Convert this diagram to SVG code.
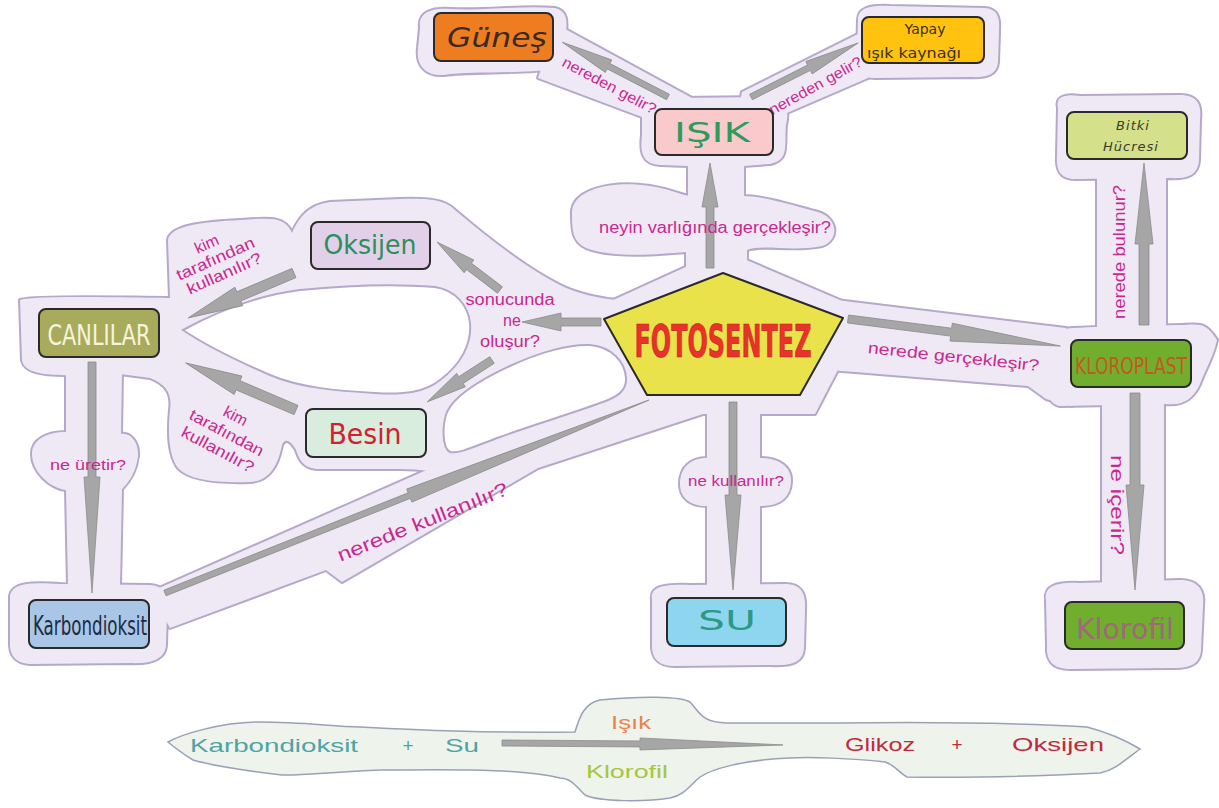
<svg xmlns="http://www.w3.org/2000/svg" xmlns:xlink="http://www.w3.org/1999/xlink" width="1219" height="808" viewBox="0 0 1219 808">
<style>
.box{stroke:#2a2a2a;stroke-width:2}
.arr{fill:#a6a6a6;stroke:#8c8c8c;stroke-width:0.8;stroke-linejoin:round}
.lbl{font-family:"Liberation Sans",Arial,sans-serif;fill:#c8288f;text-anchor:middle}
.hand{font-family:"DejaVu Sans","Open Sans",sans-serif;text-anchor:middle}
.cond{font-family:"Liberation Sans Narrow","DejaVu Sans Condensed","Liberation Sans",sans-serif;text-anchor:middle}
.eq{font-family:"Liberation Sans",Arial,sans-serif;font-size:19px}
.hole{fill:#ffffff;stroke:#b6a8ca;stroke-width:2}
</style>
<defs>
<g id="blob">
<path d="M420,28 C418,12 432,8 450,9 C490,11 520,5 555,8 C568,11 567,22 566,34 C566,50 568,63 556,69 C520,74 470,71 444,75 C424,76 416,64 418,48 Z"/>
<path d="M556,24 L692,98 L692,126 L650,120 L538,78 Z"/>
<path d="M858,20 C858,8 870,5 890,6 L985,8 C998,9 1000,18 999,32 L998,62 C997,74 988,78 970,77 L875,78 C860,78 856,70 857,55 Z"/>
<path d="M860,33 L868,78 L780,116 L738,110 L742,92 Z"/>
<path d="M642,112 C640,98 655,96 680,98 L770,97 C785,98 790,108 786,125 C784,145 790,160 770,164 L744,166 L744,200 L688,200 L688,166 L660,165 C642,164 640,152 642,135 Z"/>
<path d="M572,215 C570,190 610,180 650,186 C675,190 682,196 692,196 L742,196 C765,196 795,206 818,212 C838,218 840,240 822,246 C792,252 762,244 747,250 L747,270 L686,270 L686,252 C660,254 620,258 592,250 C573,245 572,232 572,215 Z"/>
<path d="M723,250 L868,312 L815,414 L632,414 L578,316 Z"/>
<path d="M836,300 L1066,328 L1072,406 L1046,399 L1028,386 L830,370 Z"/>
<path d="M1050,332 C1060,326 1120,327 1180,325 C1200,324 1206,322 1217,340 C1213,358 1206,368 1200,384 C1193,400 1182,406 1165,404 L1060,406 C1048,404 1046,392 1048,372 Z"/>
<path d="M1097,160 L1166,160 L1166,336 L1097,336 Z"/>
<path d="M1058,108 C1055,96 1066,94 1080,96 L1180,95 C1197,95 1202,104 1200,120 L1199,160 C1198,175 1188,179 1170,178 L1075,179 C1060,179 1056,170 1057,155 Z"/>
<path d="M1102,398 L1164,398 L1164,592 L1102,592 Z"/>
<path d="M1046,600 C1044,586 1056,582 1080,583 L1180,580 C1198,580 1205,590 1203,606 L1201,650 C1200,664 1190,669 1170,668 L1070,669 C1052,669 1046,660 1047,645 Z"/>
<path d="M707,400 L760,400 L760,458 C778,458 792,466 791,482 C790,498 780,506 760,506 L760,592 L707,592 L707,506 C690,506 680,498 680,484 C680,468 690,458 707,458 Z"/>
<path d="M652,600 C650,587 662,584 690,585 L785,584 C802,584 806,594 805,610 L804,648 C803,662 793,666 770,665 L675,666 C658,666 651,658 652,642 Z"/>
<path d="M150,592 L640,376 L706,398 L706,413 L538,468 L342,582 L326,570 L170,628 Z"/>
<path d="M20,300 C40,295 130,298 170,298 L168,240 C170,226 200,222 240,220 C270,218 285,216 292,233 C300,215 310,205 330,202 L400,199 C430,198 445,200 455,210 C490,240 530,270 560,285 C580,295 600,298 616,300 L645,405 L452,476 C440,472 420,469 400,469 L320,469 C305,469 300,462 296,450 C290,440 285,438 282,445 C278,465 270,481 250,482 C220,483 190,481 178,468 C168,455 168,430 170,410 C172,395 168,385 150,378 L120,374 C60,376 25,378 22,360 Z"/>
<path d="M66,370 L122,370 L121,434 C130,432 139,442 138,456 C136,472 130,481 122,489 L120,586 L68,586 L66,490 C50,488 32,472 32,454 C32,440 46,432 66,432 Z"/>
<path d="M10,596 C12,583 30,582 60,584 L150,585 C165,586 169,595 167,610 L166,645 C165,660 150,664 130,663 L30,664 C15,663 9,655 10,640 Z"/>
</g>
</defs>
<rect x="0" y="0" width="1219" height="808" fill="#ffffff"/>
<g id="background">
<use xlink:href="#blob" fill="none" stroke="#b6a8ca" stroke-width="4" stroke-linejoin="round"/>
<use xlink:href="#blob" fill="#efe9f5" stroke="none"/>
<path class="hole" d="M183,330 C220,310 260,295 300,290 C350,285 400,284 435,287 C455,290 468,305 470,323 C472,345 460,365 440,380 C425,392 405,395 375,393 C340,391 300,388 270,375 C240,362 205,345 183,330 Z"/>
<path class="hole" d="M447,412 C455,395 480,380 510,366 C540,352 570,344 590,345 C612,347 625,362 626,378 C627,392 615,398 600,403 C570,414 530,426 500,437 C475,446 460,454 450,452 C442,448 442,425 447,412 Z"/>
</g>
<g id="connectors">
<path class="arr" transform="translate(668,97) rotate(207.4)" d="M0,-3 L67,-3 L67,-7 L119,0 L67,7 L67,3 L0,3 Z"/>
<path class="arr" transform="translate(751,97) rotate(-26.8)" d="M0,-3 L65,-3 L65,-7 L120,0 L65,7 L65,3 L0,3 Z"/>
<path class="arr" transform="translate(710,268) rotate(-90)" d="M0,-4 L61,-4 L61,-8 L105,0 L61,8 L61,4 L0,4 Z"/>
<path class="arr" transform="translate(601,322) rotate(180)" d="M0,-4 L40,-4 L40,-9 L79,0 L40,9 L40,4 L0,4 Z"/>
<path class="arr" transform="translate(500,290) rotate(217.3)" d="M0,-4 L39,-4 L39,-8 L79,0 L39,8 L39,4 L0,4 Z"/>
<path class="arr" transform="translate(492,360) rotate(147.1)" d="M0,-4 L37,-4 L37,-8 L77,0 L37,8 L37,4 L0,4 Z"/>
<path class="arr" transform="translate(294,273) rotate(157)" d="M0,-5 L60,-5 L60,-10 L115,0 L60,10 L60,5 L0,5 Z"/>
<path class="arr" transform="translate(296,410) rotate(203.1)" d="M0,-5 L63,-5 L63,-10 L120,0 L63,10 L63,5 L0,5 Z"/>
<path class="arr" transform="translate(92,362) rotate(90)" d="M0,-4 L115,-4 L115,-8 L231,0 L115,8 L115,4 L0,4 Z"/>
<path class="arr" transform="translate(165,593) rotate(-21.74)" d="M0,-3 L263,-3 L263,-7 L521,0 L263,7 L263,3 L0,3 Z"/>
<path class="arr" transform="translate(848,319) rotate(7.26)" d="M0,-4 L104,-4 L104,-9 L214,0 L104,9 L104,4 L0,4 Z"/>
<path class="arr" transform="translate(733,402) rotate(90)" d="M0,-4 L93,-4 L93,-8 L188,0 L93,8 L93,4 L0,4 Z"/>
<path class="arr" transform="translate(1144,325) rotate(-90)" d="M0,-5 L81,-5 L81,-9 L162,0 L81,9 L81,5 L0,5 Z"/>
<path class="arr" transform="translate(1135,393) rotate(90)" d="M0,-5 L92,-5 L92,-9 L197,0 L92,9 L92,5 L0,5 Z"/>
</g>
<g id="labels">
<text class="lbl" font-size="15" transform="translate(607,90) rotate(28)" textLength="104" lengthAdjust="spacingAndGlyphs">nereden gelir?</text>
<text class="lbl" font-size="15" transform="translate(818,90) rotate(-29)" textLength="104" lengthAdjust="spacingAndGlyphs">nereden gelir?</text>
<text class="lbl" font-size="16" x="715" y="233" textLength="232" lengthAdjust="spacingAndGlyphs">neyin varlığında gerçekleşir?</text>
<text class="lbl" font-size="16" x="510" y="305" textLength="89" lengthAdjust="spacingAndGlyphs">sonucunda</text>
<text class="lbl" font-size="16" x="512" y="326">ne</text>
<text class="lbl" font-size="16" x="510" y="347" textLength="60" lengthAdjust="spacingAndGlyphs">oluşur?</text>
<g transform="translate(216,260) rotate(-24)">
<text class="lbl" font-size="16" x="-2" y="-13">kim</text>
<text class="lbl" font-size="16" x="0" y="4" textLength="84" lengthAdjust="spacingAndGlyphs">tarafından</text>
<text class="lbl" font-size="16" x="2" y="21" textLength="80" lengthAdjust="spacingAndGlyphs">kullanılır?</text>
</g>
<g transform="translate(226,434) rotate(28)">
<text class="lbl" font-size="16" x="0" y="-15">kim</text>
<text class="lbl" font-size="16" x="0" y="4" textLength="82" lengthAdjust="spacingAndGlyphs">tarafından</text>
<text class="lbl" font-size="16" x="0" y="23" textLength="80" lengthAdjust="spacingAndGlyphs">kullanılır?</text>
</g>
<text class="lbl" font-size="15" x="88" y="470" textLength="76" lengthAdjust="spacingAndGlyphs">ne üretir?</text>
<text class="lbl" font-size="19" transform="translate(425,528) rotate(-21.8)" textLength="182" lengthAdjust="spacingAndGlyphs">nerede kullanılır?</text>
<text class="lbl" font-size="14" x="736" y="486" textLength="96" lengthAdjust="spacingAndGlyphs">ne kullanılır?</text>
<text class="lbl" font-size="16" transform="translate(953,362) rotate(6)" textLength="172" lengthAdjust="spacingAndGlyphs">nerede gerçekleşir?</text>
<text class="lbl" font-size="17" transform="translate(1125,252) rotate(-90)" textLength="134" lengthAdjust="spacingAndGlyphs">nerede bulunur?</text>
<text class="lbl" font-size="19" transform="translate(1111,505) rotate(90)" textLength="100" lengthAdjust="spacingAndGlyphs">ne içerir?</text>
</g>
<g id="node-gunes">
<rect class="box" x="434" y="13" width="119" height="48" rx="7" fill="#ee7d22"/>
<text class="hand" x="497" y="47" font-size="27" font-style="italic" fill="#3b2a1e" textLength="100" lengthAdjust="spacingAndGlyphs">Güneş</text>
</g>
<g id="node-yapay">
<rect class="box" x="862" y="17" width="122" height="46" rx="7" fill="#ffc20e"/>
<text class="hand" x="925" y="34" font-size="14" fill="#3a3020">Yapay</text>
<text class="hand" x="914" y="58" font-size="14" fill="#3a3020" textLength="94" lengthAdjust="spacingAndGlyphs">ışık kaynağı</text>
</g>
<g id="node-isik">
<rect class="box" x="655" y="109" width="118" height="46" rx="7" fill="#f9c9cb"/>
<text class="hand" x="712" y="142" font-size="26" fill="#2e9b5e" textLength="76" lengthAdjust="spacingAndGlyphs">IŞIK</text>
</g>
<g id="node-bitki">
<rect class="box" x="1067" y="112" width="120" height="47" rx="7" fill="#d4e08a"/>
<text class="hand" x="1133" y="130" font-size="13" font-style="italic" fill="#3a3a2a" letter-spacing="1">Bitki</text>
<text class="hand" x="1131" y="151" font-size="13" font-style="italic" fill="#3a3a2a" letter-spacing="1">Hücresi</text>
</g>
<g id="node-oksijen">
<rect class="box" x="311" y="222" width="119" height="47" rx="7" fill="#e2d0e8"/>
<text class="hand" x="370" y="254" font-size="27" fill="#2b8e5b" textLength="93" lengthAdjust="spacingAndGlyphs">Oksijen</text>
</g>
<g id="node-canlilar">
<rect class="box" x="39" y="309" width="120" height="48" rx="7" fill="#a9ab5c"/>
<text class="cond" x="99" y="345" font-size="28" fill="#f5f5dc" textLength="103" lengthAdjust="spacingAndGlyphs">CANLILAR</text>
</g>
<g id="node-besin">
<rect class="box" x="306" y="409" width="120" height="48" rx="7" fill="#d8eddd"/>
<text class="hand" x="365" y="444" font-size="29" fill="#d32030" textLength="73" lengthAdjust="spacingAndGlyphs">Besin</text>
</g>
<g id="node-fotosentez">
<polygon points="723,273 843,318 800,395 647,395 604,319" fill="#eae24a" stroke="#2a2a2a" stroke-width="2" stroke-linejoin="round"/>
<text class="cond" x="723" y="357" font-size="44" font-weight="bold" fill="#e8322a" stroke="#b82020" stroke-width="0.6" textLength="177" lengthAdjust="spacingAndGlyphs">FOTOSENTEZ</text>
</g>
<g id="node-kloroplast">
<rect class="box" x="1071" y="340" width="120" height="47" rx="7" fill="#72ae2e"/>
<text class="cond" transform="translate(1131,374) scale(1,1.25)" x="0" y="0" font-size="19" fill="#c25a1e">KLOROPLAST</text>
</g>
<g id="node-karbondioksit">
<rect class="box" x="29" y="600" width="120" height="48" rx="7" fill="#a9c6e6"/>
<text class="cond" x="90" y="635" font-size="26" fill="#1e2a44" textLength="114" lengthAdjust="spacingAndGlyphs">Karbondioksit</text>
</g>
<g id="node-su">
<rect class="box" x="667" y="598" width="119" height="48" rx="7" fill="#8ed5f0"/>
<text class="hand" x="727" y="630" font-size="26" fill="#2a9985" textLength="58" lengthAdjust="spacingAndGlyphs">SU</text>
</g>
<g id="node-klorofil">
<rect class="box" x="1065" y="602" width="119" height="47" rx="7" fill="#72ae2e"/>
<text class="hand" x="1125" y="639" font-size="28" fill="#a06878" textLength="98" lengthAdjust="spacingAndGlyphs">Klorofil</text>
</g>
<g id="equation">
<path d="M168,742 C180,735 220,722 260,722 C300,722 330,726 360,727 C420,730 480,733 575,732 C580,715 585,703 600,700 C640,696 680,696 690,702 C700,712 700,722 727,723 L840,723 C920,722 1000,722 1087,727 C1110,733 1125,740 1140,749 C1125,760 1115,770 1100,773 C1040,776 960,778 907,777 C898,772 895,765 885,762 C850,758 810,757 790,758 C740,760 710,770 700,777 C690,785 685,795 670,798 C645,802 600,802 585,795 C575,785 570,778 560,778 C520,768 450,770 381,770 C330,772 300,776 282,775 C240,770 210,765 193,760 C185,755 175,748 168,742 Z" fill="#eef3ec" stroke="#9aa0b8" stroke-width="1.5"/>
<path class="arr" transform="translate(502,743) rotate(0.4)" d="M0,-3 L138,-3 L138,-6 L281,0 L138,6 L138,3 L0,3 Z"/>
<text class="eq" x="190" y="752" fill="#4fa3a3" textLength="168" lengthAdjust="spacingAndGlyphs">Karbondioksit</text>
<text class="eq" x="408" y="752" fill="#4fa3a3" text-anchor="middle">+</text>
<text class="eq" x="445" y="752" fill="#4fa3a3" textLength="34" lengthAdjust="spacingAndGlyphs">Su</text>
<text class="eq" x="631" y="729" fill="#e8844a" text-anchor="middle" textLength="40" lengthAdjust="spacingAndGlyphs">Işık</text>
<text class="eq" x="627" y="778" fill="#a4c83c" text-anchor="middle" textLength="82" lengthAdjust="spacingAndGlyphs">Klorofil</text>
<text class="eq" x="845" y="751" fill="#c4283c" textLength="70" lengthAdjust="spacingAndGlyphs">Glikoz</text>
<text class="eq" x="957" y="751" fill="#c4283c" text-anchor="middle">+</text>
<text class="eq" x="1012" y="751" fill="#c4283c" textLength="92" lengthAdjust="spacingAndGlyphs">Oksijen</text>
</g>
</svg>
